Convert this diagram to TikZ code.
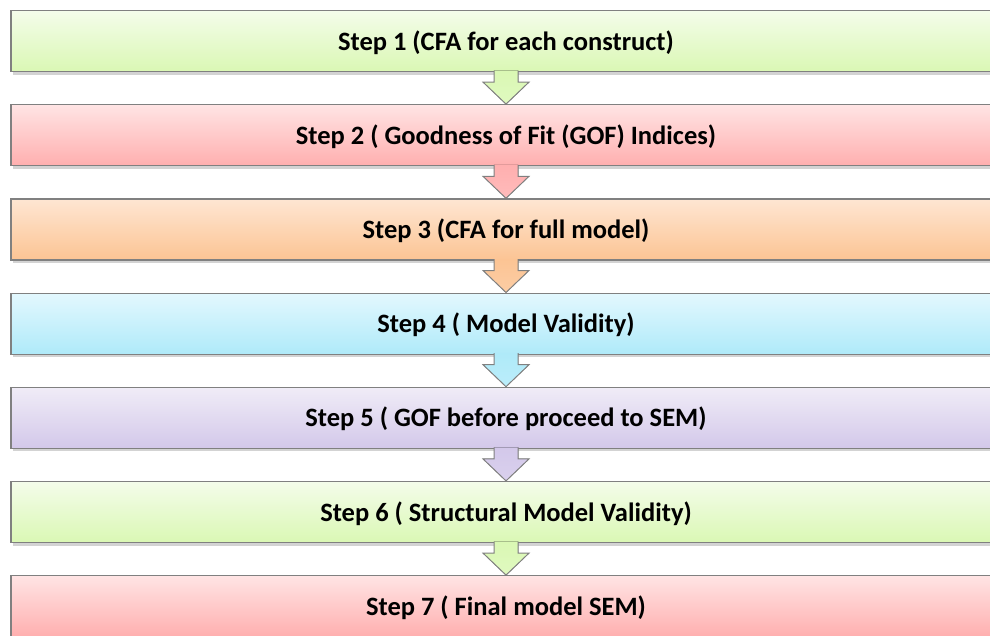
\documentclass[tikz,border=0pt]{standalone}
\usepackage{fontspec}
\setmainfont{Carlito}
\usetikzlibrary{positioning}
\usetikzlibrary{calc}
\usetikzlibrary{shadows}
\definecolor{greentop}{HTML}{F4FCEA}
\definecolor{greenbot}{HTML}{DAF8B4}
\definecolor{redtop}{HTML}{FFE4E4}
\definecolor{redbot}{HTML}{FFAFAF}
\definecolor{orangetop}{HTML}{FEE6D2}
\definecolor{orangebot}{HTML}{FCC494}
\definecolor{bluetop}{HTML}{E3F8FE}
\definecolor{bluebot}{HTML}{AFEAF9}
\definecolor{purpletop}{HTML}{F0ECF7}
\definecolor{purplebot}{HTML}{D3C8EA}
\tikzset{
  stepbox/.style  = { rectangle, minimum width=990pt, minimum height=61pt,
                      draw=black!50, line width=1.2pt,
                      font=\bfseries\fontsize{26.5}{30}\selectfont,
                      text height=22pt, text depth=4pt,
                      drop shadow={opacity=0.35, shadow xshift=1.5pt, shadow yshift=-3pt} },
  greenbox/.style  = { stepbox, top color=greentop,  bottom color=greenbot },
  redbox/.style    = { stepbox, top color=redtop,    bottom color=redbot },
  orangebox/.style = { stepbox, top color=orangetop, bottom color=orangebot },
  bluebox/.style   = { stepbox, top color=bluetop,   bottom color=bluebot },
  purplebox/.style = { stepbox, top color=purpletop, bottom color=purplebot },
  flow/.style      = { draw=black!50, line width=1pt, line join=miter }
}

\begin{document}
\begin{tikzpicture}[x=1pt,y=1pt,node distance=32pt]
  \useasboundingbox (0,0) rectangle (990,-635);
  \clip (0,0) rectangle (990,-635);

  \node (s1) [greenbox]  at (506,-41)    {Step 1 (CFA for each construct)};
  \node (s2) [redbox,below=of s1]       {Step 2 ( Goodness of Fit (GOF) Indices)};
  \node (s3) [orangebox,below=of s2]    {Step 3 (CFA for full model)};
  \node (s4) [bluebox,below=of s3]      {Step 4 ( Model Validity)};
  \node (s5) [purplebox,below=of s4]    {Step 5 ( GOF before proceed to SEM)};
  \node (s6) [greenbox,below=of s5]     {Step 6 ( Structural Model Validity)};
  \node (s7) [redbox,below=of s6]       {Step 7 ( Final model SEM)};

  % block arrows between the steps
  \foreach \a/\b/\c in {s1/s2/green,s2/s3/red,s3/s4/orange,s4/s5/blue,s5/s6/purple,s6/s7/green}
    \filldraw [flow,top color=\c bot,bottom color=\c bot!85!white]
      ($(\a.south)+(-12,1.5)$) -- ($(\a.south)+(-12,-10)$) -- ($(\a.south)+(-23,-10)$)
      -- (\b.north)
      -- ($(\a.south)+(23,-10)$) -- ($(\a.south)+(12,-10)$) -- ($(\a.south)+(12,1.5)$);

\end{tikzpicture}
\end{document}
